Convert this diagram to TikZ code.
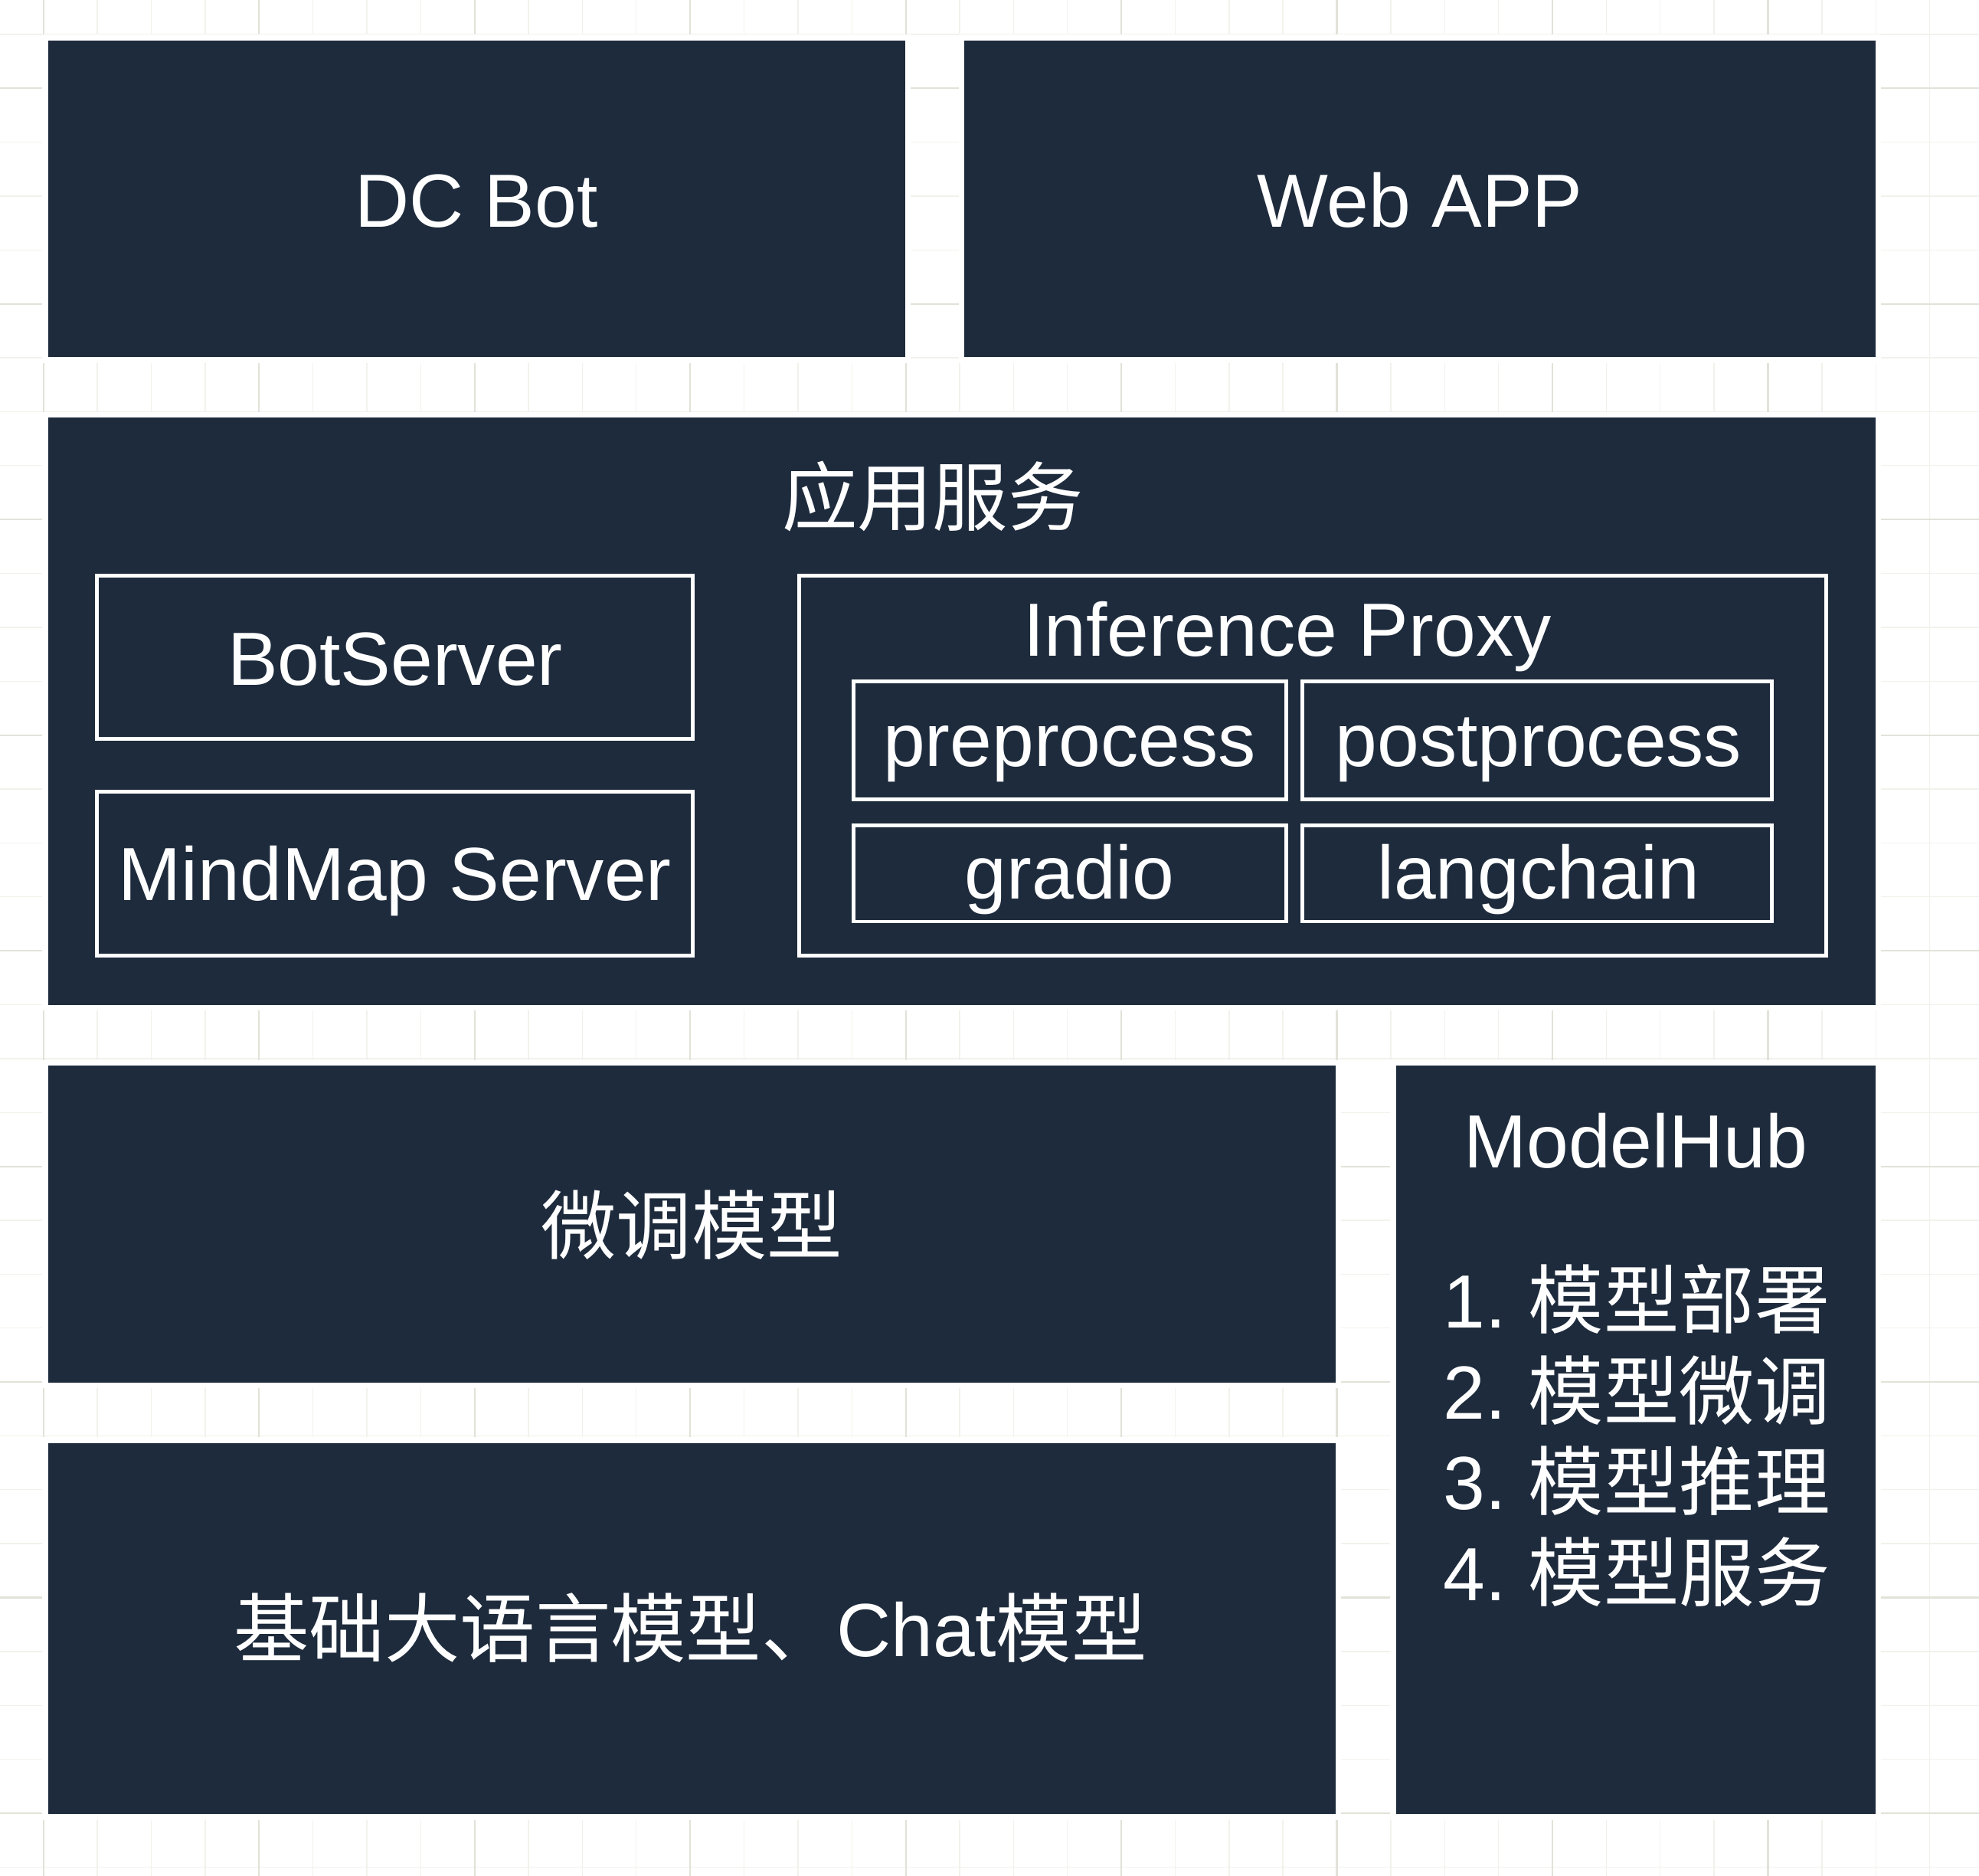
\documentclass[tikz,border=0pt]{standalone}
\usepackage{fontspec}
\setmainfont{Liberation Sans}
\newfontfamily\cjk{Noto Sans CJK SC}
\usepackage{tikz}
\definecolor{navy}{HTML}{1E2B3C}
\definecolor{gridminor}{HTML}{F2F2EC}
\definecolor{gridmajor}{HTML}{E2E2D9}

\begin{document}
\begin{tikzpicture}[x=0.01648cm, y=-0.01648cm,
  panel/.style={fill=navy, preaction={draw=white, line width=4.2pt}},
  frame/.style={draw=white, line width=1.4pt},
  label/.style={text=white, font=\fontsize{28}{34}\selectfont, anchor=base, inner sep=0pt}]
\useasboundingbox (0,0) rectangle (1568,1486);
\fill[white] (0,0) rectangle (1568,1486);

% background grid
\foreach \k in {0,...,36} {
\draw[gridminor, line width=0.4pt] (34.4+42.7*\k, 0) -- +(0, 1486); }
\foreach \k in {0,...,34} {
\draw[gridminor, line width=0.4pt] (0, 27.2+42.7*\k) -- +(1568, 0); }
\foreach \k in {0,...,9} {
\draw[gridmajor, line width=0.6pt] (34.4+170.8*\k, 0) -- +(0, 1486); }
\foreach \k in {0,...,8} {
\draw[gridmajor, line width=0.6pt] (0, 69.9+170.8*\k) -- +(1568, 0); }

% layers
\fill[panel] (38, 32) rectangle (717, 283);
\fill[panel] (764, 32) rectangle (1486, 283);
\fill[panel] (38, 331) rectangle (1486, 796);
\fill[panel] (38, 844) rectangle (1058, 1095);
\fill[panel] (38, 1143) rectangle (1058, 1437);
\fill[panel] (1106, 844) rectangle (1486, 1437);

% inner boxes
\draw[frame] (77, 456) rectangle (549, 585);
\draw[frame] (77, 627) rectangle (549, 757);
\draw[frame] (633, 456) rectangle (1447, 757);
\draw[frame] (676, 540) rectangle (1019, 633);
\draw[frame] (1032, 540) rectangle (1404, 633);
\draw[frame] (676, 654) rectangle (1019, 730);
\draw[frame] (1032, 654) rectangle (1404, 730);

\node[label] (dcbot) at (377.5, 180) {DC Bot};
\node[label] (webapp) at (1125, 180) {Web APP};
\node[label] (appsvc) at (739, 416) {\cjk 应用服务};
\node[label] (botserver) at (313, 543) {BotServer};
\node[label] (mindmap) at (313, 713) {MindMap Server};
\node[label] (proxy) at (1020, 520) {Inference Proxy};
\node[label] (preproc) at (847.5, 607) {preprocess};
\node[label] (postproc) at (1219, 607) {postprocess};
\node[label] (gradio) at (847.5, 712) {gradio};
\node[label] (langchain) at (1219, 712) {langchain};
\node[label] (finetune) at (548, 993) {\cjk 微调模型};
\node[label] (basellm) at (547, 1312) {{\cjk 基础大语言模型、}Chat{\cjk 模型}};
\node[label] (modelhub) at (1296, 925) {ModelHub};
\foreach \t [count=\k] in {部署,微调,推理,服务}
\node[label, anchor=base west] (task\k) at (1143, {1052+72*(\k-1)}) {\k.\hspace{0.3em}{\cjk 模型\t}};
\end{tikzpicture}
\end{document}
